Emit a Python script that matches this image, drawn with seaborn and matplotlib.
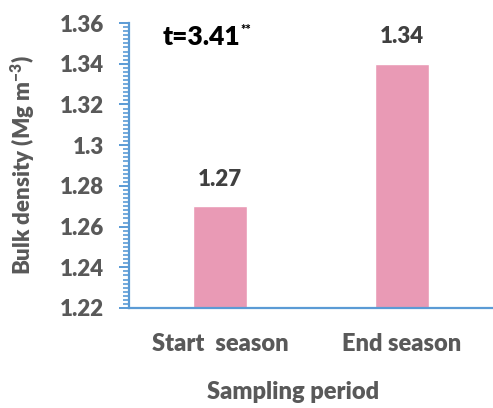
import matplotlib
matplotlib.use("Agg")
import matplotlib.pyplot as plt
from matplotlib.ticker import MultipleLocator, FixedLocator
import seaborn as sns
import pandas as pd

periods = ["Start  season", "End season"]
bulk_density = [1.27, 1.34]
value_labels = ["1.27", "1.34"]
y_ticks = [1.22, 1.24, 1.26, 1.28, 1.30, 1.32, 1.34, 1.36]
y_tick_labels = ["1.22", "1.24", "1.26", "1.28", "1.3", "1.32", "1.34", "1.36"]

sns.set_theme(style="white")
plt.rcParams["font.family"] = ["Lato", "DejaVu Sans"]
plt.rcParams["mathtext.fontset"] = "custom"
plt.rcParams["mathtext.rm"] = "Lato:heavy"
plt.rcParams["mathtext.bf"] = "Lato:heavy"

W = 800  # heavy weight for all text
axis_blue = "#5B9BD5"
text_grey = "#595959"
bar_pink = "#E99AB5"

df = pd.DataFrame({"period": periods, "density": bulk_density})

fig = plt.figure(figsize=(4.93, 4.08), dpi=100)
ax = fig.add_axes([129 / 493, 1 - 308 / 408, 1 - 129 / 493, (308 - 23) / 408])

sns.barplot(data=df, x="period", y="density", color=bar_pink, width=0.3,
            saturation=1, ax=ax)

ax.set_ylim(1.22, 1.36)
ax.set_xlim(-0.5, 1.5)
ax.yaxis.set_major_locator(FixedLocator(y_ticks))
ax.set_yticklabels(y_tick_labels)
ax.yaxis.set_minor_locator(MultipleLocator(0.002))

for s in ["top", "right"]:
    ax.spines[s].set_visible(False)
for s in ["left", "bottom"]:
    ax.spines[s].set_color(axis_blue)
    ax.spines[s].set_linewidth(1.6)

ax.tick_params(axis="y", which="major", direction="out", length=7, width=1.4,
               color=axis_blue, labelsize=16, labelcolor=text_grey, pad=11, left=True)
ax.tick_params(axis="y", which="minor", direction="out", length=4, width=1.2,
               color=axis_blue, left=True)
ax.tick_params(axis="x", which="both", length=0, labelsize=17,
               labelcolor=text_grey, pad=18)
for lbl in ax.get_xticklabels() + ax.get_yticklabels():
    lbl.set_fontweight(W)

ax.set_ylabel("Bulk density (Mg m$^{-3}$)", fontsize=16,
              color=text_grey, fontweight=W)
ax.yaxis.set_label_coords(-(129 - 37) / 364, 0.5)
ax.set_xlabel("Sampling period", fontsize=17, color=text_grey, fontweight=W,
              va="center")
ax.xaxis.set_label_coords((293 - 129) / 364, -(392 - 308) / 285)

for i, (v, lab) in enumerate(zip(bulk_density, value_labels)):
    ax.annotate(lab, (i, v), xytext=(0, 12), textcoords="offset points",
                ha="center", va="bottom", fontsize=16, fontweight=W,
                color="#404040")

t_txt = ax.text((163 - 129) / 364, 1 - (37 - 23) / 285, "t=3.41",
                transform=ax.transAxes, fontsize=19,
                fontweight=W, color="black", ha="left", va="center")
ax.annotate("**", xy=(1, 1), xycoords=t_txt, xytext=(0, 1),
            textcoords="offset points", ha="left", va="top",
            fontsize=9, fontweight=W, color="black")

fig.savefig("out.png", dpi=100)
